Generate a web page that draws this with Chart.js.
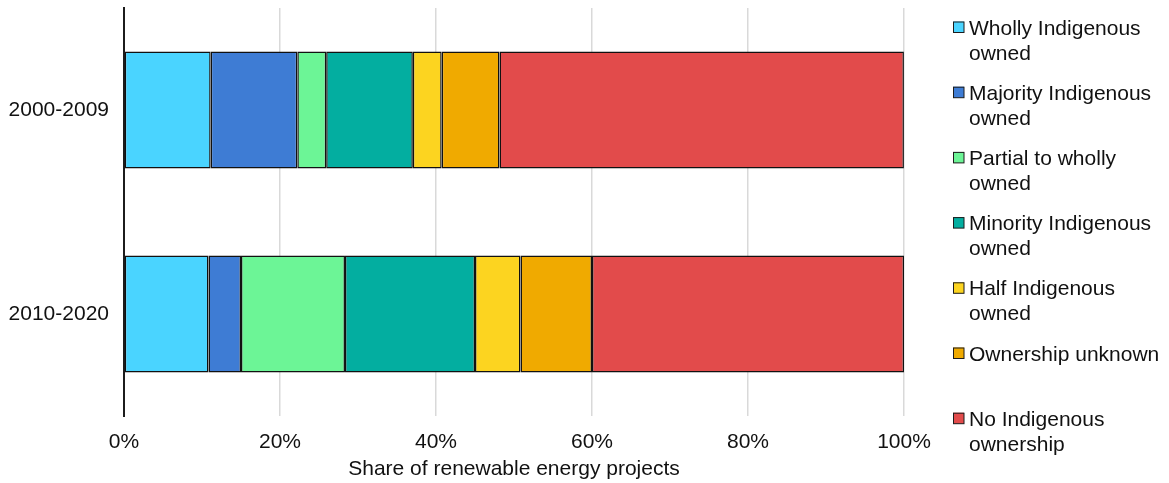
<!DOCTYPE html>
<html>
<head>
<meta charset="utf-8">
<script src="https://cdn.jsdelivr.net/npm/chart.js@4/dist/chart.umd.min.js"></script>
<style>
  html, body { margin: 0; padding: 0; background: #ffffff; }
  #wrap { width: 1169px; height: 483px; position: relative; }
</style>
</head>
<body>
<div id="wrap"><canvas id="c" width="1169" height="483"></canvas></div>
<script>
// Categories (y axis)
const categories = ['2000-2009', '2010-2020'];

// Series names (legend text, split into lines)
const seriesNames = [
  ['Wholly Indigenous', 'owned'],
  ['Majority Indigenous', 'owned'],
  ['Partial to wholly', 'owned'],
  ['Minority Indigenous', 'owned'],
  ['Half Indigenous', 'owned'],
  ['Ownership unknown'],
  ['No Indigenous', 'ownership']
];

// Series values (% share) for [2000-2009, 2010-2020]
const whollyOwned    = [11.11, 10.83];
const majorityOwned  = [11.11, 4.17];
const partialOwned   = [3.70, 13.33];
const minorityOwned  = [11.11, 16.67];
const halfOwned      = [3.70, 5.83];
const unknownOwned   = [7.41, 9.17];
const noOwnership    = [51.85, 40.00];

// Tick labels for the x axis
const xTickLabels = ['0%', '20%', '40%', '60%', '80%', '100%'];

const seriesColors = ['#4AD4FF', '#3E7CD4', '#6CF596', '#03AEA0', '#FCD420', '#F0AA00', '#E24B4B'];
const seriesValues = [whollyOwned, majorityOwned, partialOwned, minorityOwned, halfOwned, unknownOwned, noOwnership];

const FONT = "'Liberation Sans', Arial, sans-serif";
const FS = 21;

const datasets = seriesValues.map((vals, i) => ({
  label: seriesNames[i].join(' '),
  data: vals,
  backgroundColor: seriesColors[i],
  borderColor: '#111111',
  borderWidth: 1.5,
  borderSkipped: false,
  categoryPercentage: 1.0,
  barPercentage: 0.574
}));

const legendPlugin = {
  id: 'sideLegend',
  afterDraw(chart) {
    const ctx = chart.ctx;
    ctx.save();
    ctx.font = FS + 'px ' + FONT;
    ctx.textAlign = 'left';
    ctx.textBaseline = 'alphabetic';
    chart.data.datasets.forEach((ds, i) => {
      const cy = 27 + i * 65.2;
      ctx.fillStyle = ds.backgroundColor;
      ctx.fillRect(953, cy - 5.5, 11, 11);
      ctx.strokeStyle = '#1c1c1c';
      ctx.lineWidth = 1;
      ctx.strokeRect(953.5, cy - 5, 10.5, 10.5);
      ctx.fillStyle = '#111111';
      seriesNames[i].forEach((line, k) => {
        ctx.fillText(line, 969, cy + 0.358 * FS + k * 25);
      });
    });
    ctx.restore();
  }
};

new Chart(document.getElementById('c'), {
  type: 'bar',
  data: { labels: categories, datasets: datasets },
  options: {
    indexAxis: 'y',
    responsive: false,
    animation: false,
    devicePixelRatio: 1,
    layout: { padding: { top: 8, right: 265, bottom: 0, left: 0 } },
    plugins: {
      legend: { display: false },
      tooltip: { enabled: false }
    },
    scales: {
      x: {
        stacked: true,
        min: 0,
        max: 100,
        afterFit(scale) {
          scale.height = 67;
          scale.paddingLeft = 0;
          scale.paddingRight = 0;
        },
        afterBuildTicks(scale) {
          scale.ticks = xTickLabels.map((t, i) => ({ value: i * 20 }));
        },
        ticks: {
          padding: 14,
          color: '#111111',
          font: { family: FONT, size: FS },
          callback: (v, i) => xTickLabels[i]
        },
        grid: { color: '#d9d9d9', lineWidth: 1.5, drawTicks: false },
        border: { display: false },
        title: {
          display: true,
          text: 'Share of renewable energy projects',
          color: '#111111',
          font: { family: FONT, size: FS },
          padding: { top: 0, bottom: 1 }
        }
      },
      y: {
        stacked: true,
        afterFit(scale) {
          scale.width = 124;
          scale.paddingTop = 0;
          scale.paddingBottom = 0;
        },
        ticks: {
          padding: 15,
          color: '#111111',
          font: { family: FONT, size: FS }
        },
        grid: { display: false, drawTicks: false },
        border: { display: true, color: '#1c1c1c', width: 2 }
      }
    }
  },
  plugins: [legendPlugin]
});
</script>
</body>
</html>
